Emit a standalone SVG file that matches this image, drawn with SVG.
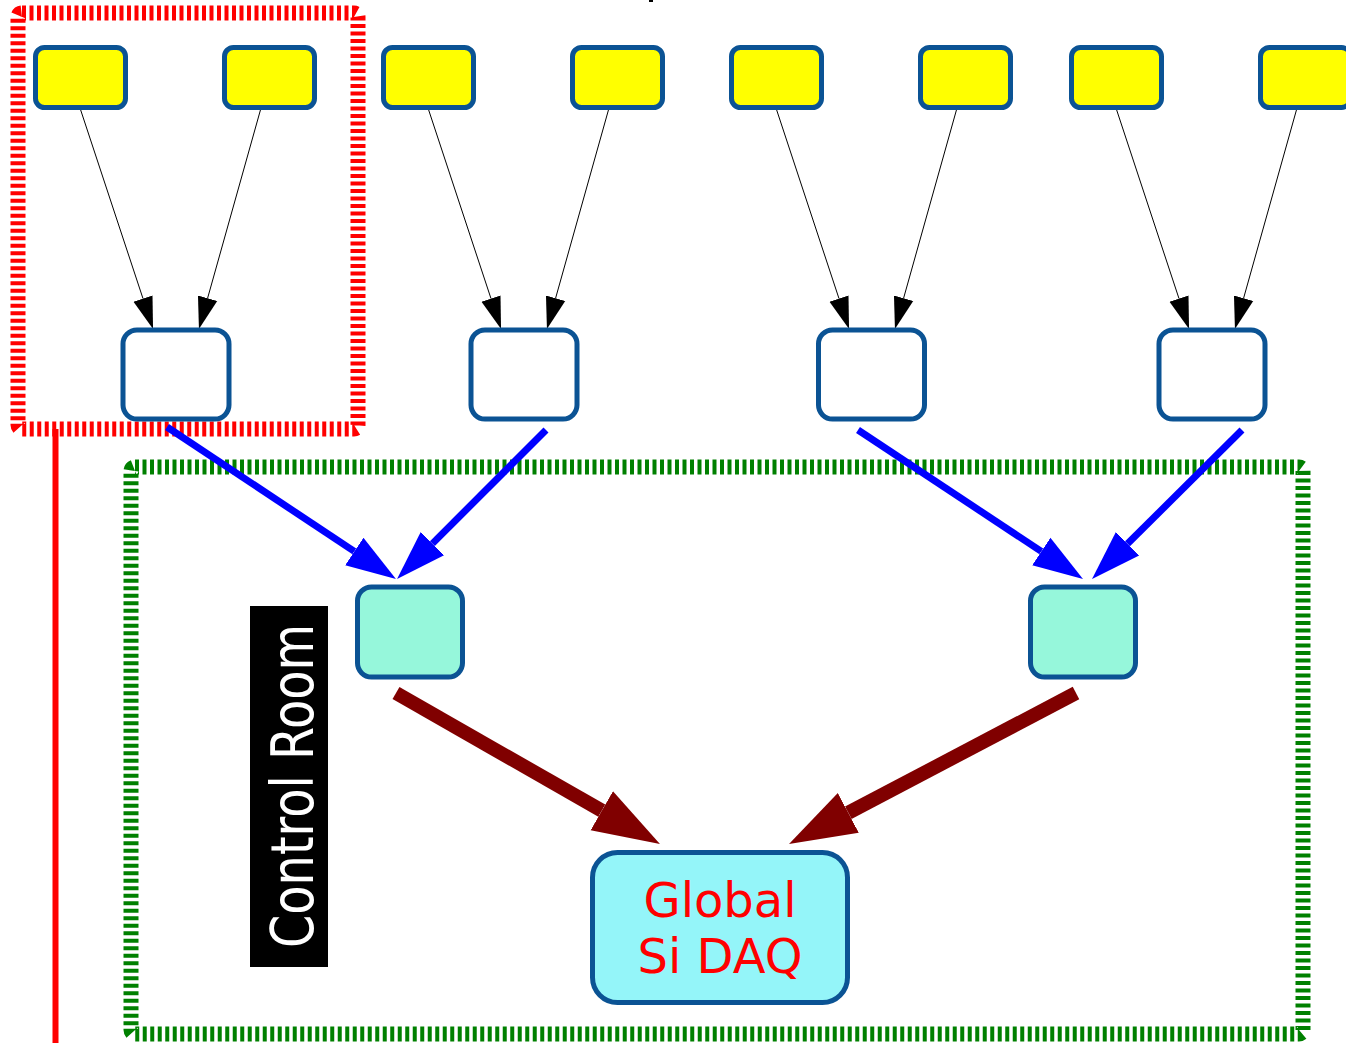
<svg xmlns="http://www.w3.org/2000/svg" width="1346" height="1043" viewBox="0 0 1346 1043">
  <style>
    .src { fill: #ffff00; stroke: #0b5394; stroke-width: 5; }
    .hub { fill: #ffffff; stroke: #0b5394; stroke-width: 5; }
    .agg { fill: #96f7db; stroke: #0b5394; stroke-width: 5; }
    .daq { fill: #94f5f9; stroke: #0b5394; stroke-width: 5; }
    .thin { stroke: #000000; stroke-width: 1; fill: none; marker-end: url(#headBlack); }
    .mid { stroke: #0000ff; stroke-width: 7; fill: none; marker-end: url(#headBlue); }
    .fat { stroke: #800000; stroke-width: 14; fill: none; marker-end: url(#headMaroon); }
    .zone { fill: none; stroke-width: 15; stroke-dasharray: 4 3.5; }
    .label { font-family: "DejaVu Sans", "Liberation Sans", sans-serif; }
  </style>
  <defs>
    <marker id="headBlack" markerUnits="userSpaceOnUse" markerWidth="34" markerHeight="22" viewBox="0 -11 34 22" refX="0" refY="0" orient="auto">
      <path d="M0,-10 L32,0 L0,10 Z" fill="#000000"/>
    </marker>
    <marker id="headBlue" markerUnits="userSpaceOnUse" markerWidth="52" markerHeight="36" viewBox="0 -18 52 36" refX="0" refY="0" orient="auto">
      <path d="M0,-16.5 L50,0 L0,16.5 Z" fill="#0000ff"/>
    </marker>
    <marker id="headMaroon" markerUnits="userSpaceOnUse" markerWidth="70" markerHeight="50" viewBox="0 -25 70 50" refX="0" refY="0" orient="auto">
      <path d="M0,-22.5 L67,0 L0,22.5 Z" fill="#800000"/>
    </marker>
  </defs>

  <rect width="1346" height="1043" fill="#ffffff"/>

  <!-- stray mark at the top edge -->
  <rect x="649" y="0" width="4" height="2" fill="#000000"/>

  <!-- zone frames -->
  <g id="zones">
    <rect id="zone-detector" class="zone" x="18" y="13" width="340" height="416" rx="4" stroke="#ff0000"/>
    <rect id="zone-control" class="zone" x="131" y="467" width="1172" height="567" rx="4" stroke="#008000"/>
    <line id="zone-divider" x1="55.5" y1="429" x2="55.5" y2="1043" stroke="#ff0000" stroke-width="6"/>
  </g>

  <!-- connectors -->
  <g id="connectors">
    <path class="thin" d="M80,108 L143,298.6"/>
    <path class="thin" d="M261,108 L207.6,298.2"/>
    <path class="thin" d="M428,108 L491,298.6"/>
    <path class="thin" d="M609,108 L555.6,298.2"/>
    <path class="thin" d="M776,108 L839,298.6"/>
    <path class="thin" d="M957,108 L903.6,298.2"/>
    <path class="thin" d="M1116,108 L1179,298.6"/>
    <path class="thin" d="M1297,108 L1243.6,298.2"/>

    <path class="mid" d="M167,427 L354.3,551.4"/>
    <path class="mid" d="M546,430 L432.4,543.6"/>
    <path class="mid" d="M858,430 L1041.3,551.4"/>
    <path class="mid" d="M1242,430 L1127.5,543.8"/>

    <path class="fat" d="M396,693 L601.8,810.7"/>
    <path class="fat" d="M1076,693 L848.3,812.8"/>
  </g>

  <!-- front-end sources -->
  <g id="src1"><rect class="src" x="35.5" y="47.5" width="90" height="60" rx="9"/></g>
  <g id="src2"><rect class="src" x="224.5" y="47.5" width="90" height="60" rx="9"/></g>
  <g id="src3"><rect class="src" x="383.5" y="47.5" width="90" height="60" rx="9"/></g>
  <g id="src4"><rect class="src" x="572.5" y="47.5" width="90" height="60" rx="9"/></g>
  <g id="src5"><rect class="src" x="731.5" y="47.5" width="90" height="60" rx="9"/></g>
  <g id="src6"><rect class="src" x="920.5" y="47.5" width="90" height="60" rx="9"/></g>
  <g id="src7"><rect class="src" x="1071.5" y="47.5" width="90" height="60" rx="9"/></g>
  <g id="src8"><rect class="src" x="1260.5" y="47.5" width="90" height="60" rx="9"/></g>

  <!-- concentrators -->
  <g id="hub1"><rect class="hub" x="123" y="330" width="106" height="89" rx="14"/></g>
  <g id="hub2"><rect class="hub" x="471" y="330" width="106" height="89" rx="14"/></g>
  <g id="hub3"><rect class="hub" x="818.5" y="330" width="106" height="89" rx="14"/></g>
  <g id="hub4"><rect class="hub" x="1159" y="330" width="106" height="89" rx="14"/></g>

  <!-- aggregators -->
  <g id="agg1"><rect class="agg" x="357.5" y="587" width="105" height="90" rx="14"/></g>
  <g id="agg2"><rect class="agg" x="1030.5" y="587" width="105" height="90" rx="14"/></g>

  <!-- global DAQ -->
  <g id="global-daq">
    <rect class="daq" x="592.5" y="852.5" width="255" height="150" rx="25"/>
    <text class="label" x="720" y="917" font-size="48" fill="#ff0000" text-anchor="middle">Global</text>
    <text class="label" x="720" y="973" font-size="48" fill="#ff0000" text-anchor="middle">Si DAQ</text>
  </g>

  <!-- control room tag -->
  <g id="control-room">
    <rect x="250" y="606" width="78" height="361" fill="#000000"/>
    <text class="label" transform="translate(313,786) rotate(-90)" x="0" y="0" font-size="58" fill="#ffffff" text-anchor="middle" textLength="324" lengthAdjust="spacingAndGlyphs">Control Room</text>
  </g>
</svg>
